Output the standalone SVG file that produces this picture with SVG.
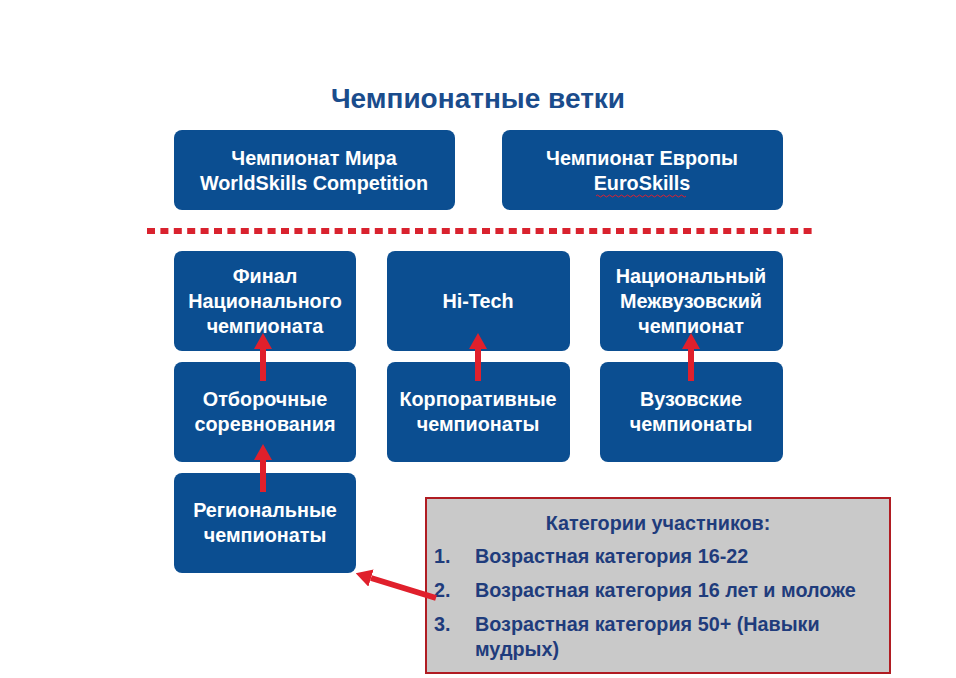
<svg xmlns="http://www.w3.org/2000/svg" width="956" height="678" viewBox="0 0 956 678">
<defs>
<style>
.box{fill:#0b4e91;}
.bt{font-family:"Liberation Sans",Arial,sans-serif;font-weight:bold;font-size:19.8px;fill:#ffffff;text-anchor:middle;}
.title{font-family:"Liberation Sans",Arial,sans-serif;font-weight:bold;font-size:28px;fill:#1a4c8c;text-anchor:middle;}
.gt{font-family:"Liberation Sans",Arial,sans-serif;font-weight:bold;font-size:19.8px;fill:#1f3c7c;}
.arr{stroke:#e0202c;stroke-width:6;fill:none;}
</style>
<marker id="ah" markerUnits="userSpaceOnUse" markerWidth="16" markerHeight="18" refX="0" refY="9" orient="auto" viewBox="0 0 16 18">
<path d="M0,0 L16,9 L0,18 z" fill="#e0202c"/>
</marker>
</defs>
<rect width="956" height="678" fill="#ffffff"/>
<text class="title" x="478" y="108">Чемпионатные ветки</text>

<g id="world">
<rect class="box" x="174" y="130" width="281" height="80" rx="8"/>
<text class="bt" x="314" y="165">Чемпионат Мира</text>
<text class="bt" x="314" y="190">WorldSkills Competition</text>
</g>
<g id="europe">
<rect class="box" x="502" y="130" width="281" height="80" rx="8"/>
<text class="bt" x="642" y="165">Чемпионат Европы</text>
<text class="bt" x="642" y="190">EuroSkills</text>
<path d="M596,196 q1.5,-2 3,0 t3,0 t3,0 t3,0 t3,0 t3,0 t3,0 t3,0 t3,0 t3,0 t3,0 t3,0 t3,0 t3,0 t3,0 t3,0 t3,0 t3,0 t3,0 t3,0 t3,0 t3,0 t3,0 t3,0 t3,0 t3,0 t3,0 t3,0 t3,0 t3,0" fill="none" stroke="#e02030" stroke-width="1"/>
</g>

<line x1="147" y1="231" x2="812" y2="231" stroke="#d9222e" stroke-width="6" stroke-dasharray="8 5.4"/>

<g id="final">
<rect class="box" x="174" y="251" width="182" height="100" rx="8"/>
<text class="bt" x="265" y="283">Финал</text>
<text class="bt" x="265" y="308">Национального</text>
<text class="bt" x="265" y="333">чемпионата</text>
</g>
<g id="hitech">
<rect class="box" x="387" y="251" width="183" height="100" rx="8"/>
<text class="bt" x="478" y="308">Hi-Tech</text>
</g>
<g id="national-univ">
<rect class="box" x="600" y="251" width="183" height="100" rx="8"/>
<text class="bt" x="691" y="283">Национальный</text>
<text class="bt" x="691" y="308">Межвузовский</text>
<text class="bt" x="691" y="333">чемпионат</text>
</g>
<g id="selection">
<rect class="box" x="174" y="362" width="182" height="100" rx="8"/>
<text class="bt" x="265" y="406">Отборочные</text>
<text class="bt" x="265" y="431">соревнования</text>
</g>
<g id="corporate">
<rect class="box" x="387" y="362" width="183" height="100" rx="8"/>
<text class="bt" x="478" y="406">Корпоративные</text>
<text class="bt" x="478" y="431">чемпионаты</text>
</g>
<g id="univ">
<rect class="box" x="600" y="362" width="183" height="100" rx="8"/>
<text class="bt" x="691" y="406">Вузовские</text>
<text class="bt" x="691" y="431">чемпионаты</text>
</g>
<g id="regional">
<rect class="box" x="174" y="473" width="182" height="100" rx="8"/>
<text class="bt" x="265" y="517">Региональные</text>
<text class="bt" x="265" y="542">чемпионаты</text>
</g>

<g id="categories">
<rect x="426" y="498" width="464" height="175" fill="#c9c9c9" stroke="#b01c22" stroke-width="2"/>
<text class="gt" x="658" y="530" text-anchor="middle">Категории участников:</text>
<text class="gt" x="434" y="563">1.</text>
<text class="gt" x="475" y="563">Возрастная категория 16-22</text>
<text class="gt" x="434" y="597">2.</text>
<text class="gt" x="475" y="597">Возрастная категория 16 лет и моложе</text>
<text class="gt" x="434" y="631">3.</text>
<text class="gt" x="475" y="631">Возрастная категория 50+ (Навыки</text>
<text class="gt" x="475" y="656">мудрых)</text>
</g>

<g id="connectors">
<line class="arr" x1="263" y1="381" x2="263" y2="349" marker-end="url(#ah)"/>
<line class="arr" x1="263" y1="492" x2="263" y2="460" marker-end="url(#ah)"/>
<line class="arr" x1="478" y1="381" x2="478" y2="349" marker-end="url(#ah)"/>
<line class="arr" x1="691" y1="381" x2="691" y2="349" marker-end="url(#ah)"/>
<line class="arr" x1="436" y1="598" x2="371" y2="578" marker-end="url(#ah)"/>
</g>
</svg>
